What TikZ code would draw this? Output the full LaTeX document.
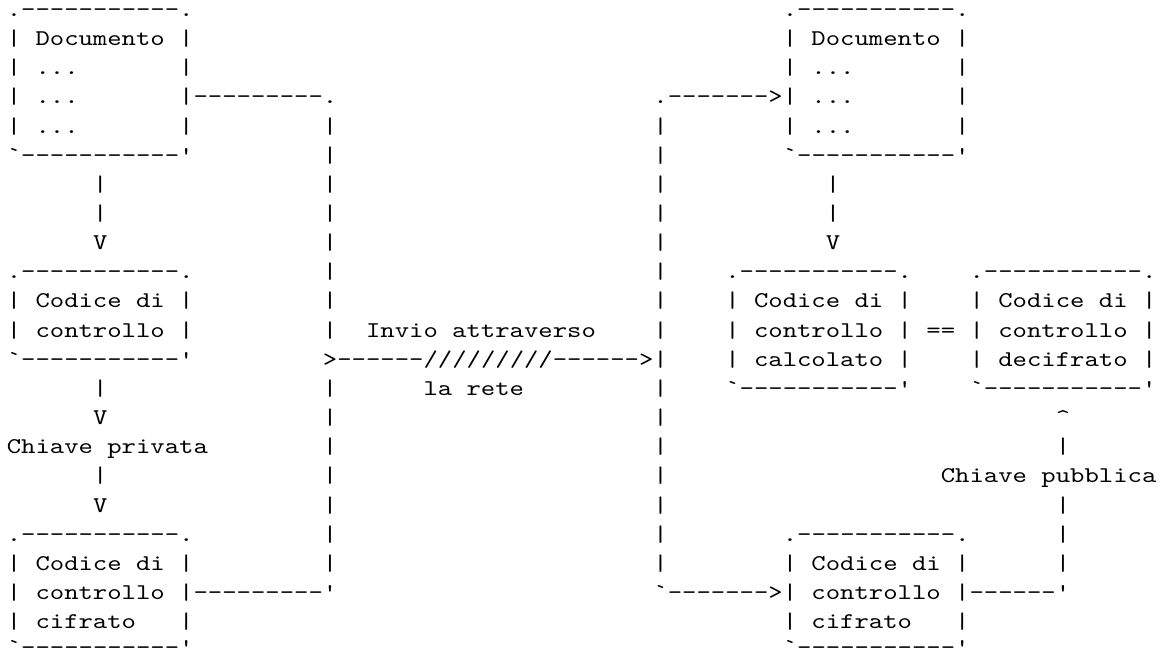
\documentclass[tikz,border=0pt]{standalone}
\usepackage{fontspec}
\setmonofont[FakeStretch=1.2165]{lmmono10-regular.otf}
\tikzset{asc/.style={anchor=base west,inner sep=0pt,outer sep=0pt,
  font=\ttfamily\fontsize{22.5}{29.15}\selectfont\frenchspacing,text=black}}
% place text at grid column #2, row #3, node name #1
\newcommand\gl[4]{\node[asc] (#1) at ({6.8+#2*14.37},{-16.5-#3*29.15}) {#4};}
\begin{document}
\begin{tikzpicture}[x=1pt,y=1pt]
\useasboundingbox (0,0) rectangle (1160,-655);
\fill[white] (0,0) rectangle (1160,-655);
% ---- left Documento box
\gl{docAa}{0}{0}{.-{}-{}-{}-{}-{}-{}-{}-{}-{}-{}-.}
\gl{docAb}{0}{1}{|~Documento~|}
\gl{docAc}{0}{2}{|~...~~~~~~~|}
\gl{docAd}{0}{3}{|~...~~~~~~~|}
\gl{docAe}{0}{4}{|~...~~~~~~~|}
\gl{docAf}{0}{5}{`-{}-{}-{}-{}-{}-{}-{}-{}-{}-{}-'}
% ---- arrow to Codice di controllo
\gl{aA6}{6}{6}{|}
\gl{aA7}{6}{7}{|}
\gl{aA8}{6}{8}{V}
% ---- Codice di controllo box
\gl{codAa}{0}{9}{.-{}-{}-{}-{}-{}-{}-{}-{}-{}-{}-.}
\gl{codAb}{0}{10}{|~Codice~di~|}
\gl{codAc}{0}{11}{|~controllo~|}
\gl{codAd}{0}{12}{`-{}-{}-{}-{}-{}-{}-{}-{}-{}-{}-'}
% ---- arrow with private key
\gl{aB13}{6}{13}{|}
\gl{aB14}{6}{14}{V}
\gl{privkey}{0}{15}{Chiave~privata}
\gl{aB16}{6}{16}{|}
\gl{aB17}{6}{17}{V}
% ---- Codice di controllo cifrato box (left)
\gl{cifAa}{0}{18}{.-{}-{}-{}-{}-{}-{}-{}-{}-{}-{}-.}
\gl{cifAb}{0}{19}{|~Codice~di~|}
\gl{cifAc}{0}{20}{|~controllo~|}
\gl{cifAd}{0}{21}{|~cifrato~~~|}
\gl{cifAe}{0}{21.9}{`-{}-{}-{}-{}-{}-{}-{}-{}-{}-{}-'}
% ---- left collector line
\gl{colTop}{13}{3}{-{}-{}-{}-{}-{}-{}-{}-{}-.}
\foreach \r in {4,...,11}{\gl{colL\r}{22}{\r}{|}}
\foreach \r in {13,...,19}{\gl{colL\r}{22}{\r}{|}}
\gl{colBot}{13}{20}{-{}-{}-{}-{}-{}-{}-{}-{}-'}
% ---- network
\gl{invio}{25}{11}{Invio~attraverso}
\gl{net}{22}{12}{>-{}-{}-{}-{}-{}-/////////-{}-{}-{}-{}-{}->|}
\gl{rete}{29}{13}{la~rete}
% ---- right distributor line
\gl{disTop}{45}{3}{.-{}-{}-{}-{}-{}-{}->}
\foreach \r in {4,...,11}{\gl{disR\r}{45}{\r}{|}}
\foreach \r in {13,...,19}{\gl{disR\r}{45}{\r}{|}}
\gl{disBot}{45}{20}{`-{}-{}-{}-{}-{}-{}->}
% ---- right Documento box
\gl{docBa}{54}{0}{.-{}-{}-{}-{}-{}-{}-{}-{}-{}-{}-.}
\gl{docBb}{54}{1}{|~Documento~|}
\gl{docBc}{54}{2}{|~...~~~~~~~|}
\gl{docBd}{54}{3}{|~...~~~~~~~|}
\gl{docBe}{54}{4}{|~...~~~~~~~|}
\gl{docBf}{54}{5}{`-{}-{}-{}-{}-{}-{}-{}-{}-{}-{}-'}
\gl{aC6}{57}{6}{|}
\gl{aC7}{57}{7}{|}
\gl{aC8}{57}{8}{V}
% ---- calcolato box
\gl{calca}{50}{9}{.-{}-{}-{}-{}-{}-{}-{}-{}-{}-{}-.}
\gl{calcb}{50}{10}{|~Codice~di~|}
\gl{calcc}{50}{11}{|~controllo~|}
\gl{calcd}{50}{12}{|~calcolato~|}
\gl{calce}{50}{13}{`-{}-{}-{}-{}-{}-{}-{}-{}-{}-{}-'}
\gl{eq}{64}{11}{==}
% ---- decifrato box
\gl{deca}{67}{9}{.-{}-{}-{}-{}-{}-{}-{}-{}-{}-{}-.}
\gl{decb}{67}{10}{|~Codice~di~|}
\gl{decc}{67}{11}{|~controllo~|}
\gl{decd}{67}{12}{|~decifrato~|}
\gl{dece}{67}{13}{`-{}-{}-{}-{}-{}-{}-{}-{}-{}-{}-'}
% ---- public key path
\gl{aD14}{73}{14}{\textasciicircum}
\gl{aD15}{73}{15}{|}
\gl{pubkey}{65}{16}{Chiave~pubblica}
\gl{aD17}{73}{17}{|}
\gl{aD18}{73}{18}{|}
\gl{aD19}{73}{19}{|}
\gl{aD20}{67}{20}{-{}-{}-{}-{}-{}-'}
% ---- right cifrato box
\gl{cifBa}{54}{18}{.-{}-{}-{}-{}-{}-{}-{}-{}-{}-{}-.}
\gl{cifBb}{54}{19}{|~Codice~di~|}
\gl{cifBc}{54}{20}{|~controllo~|}
\gl{cifBd}{54}{21}{|~cifrato~~~|}
\gl{cifBe}{54}{21.9}{`-{}-{}-{}-{}-{}-{}-{}-{}-{}-{}-'}
\end{tikzpicture}
\end{document}
